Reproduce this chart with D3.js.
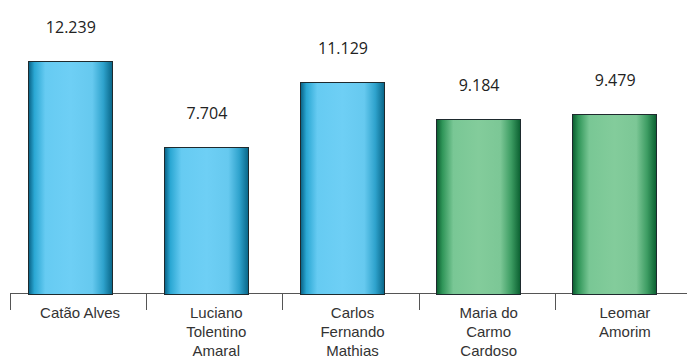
<!DOCTYPE html>
<html>
<head>
<meta charset="utf-8">
<script src="https://cdn.jsdelivr.net/npm/d3@7"></script>
<style>
  html, body { margin: 0; padding: 0; background: #fff; }
  svg { display: block; }
</style>
</head>
<body>
<svg id="chart" width="687" height="359"></svg>
<script>
// Votes per candidate
const candidates = [
  ["Catão Alves"],
  ["Luciano", "Tolentino", "Amaral"],
  ["Carlos", "Fernando", "Mathias"],
  ["Maria do", "Carmo", "Cardoso"],
  ["Leomar", "Amorim"]
];
const votes = [12.239, 7.704, 11.129, 9.184, 9.479];
const valueLabels = ["12.239", "7.704", "11.129", "9.184", "9.479"];
const groups = ["blue", "blue", "blue", "green", "green"];

const svg = d3.select("#chart");
const W = 687, H = 359;
const baseline = 294;

const ids = d3.range(votes.length);

// Category slots along the axis (labels and tick marks)
const xSlot = d3.scaleBand().domain(ids).range([10, 691]).padding(0);
// Bars sit slightly left of their slot centre
const xBar = d3.scaleBand().domain(ids).range([2, 682]).paddingInner(0.383).paddingOuter(0.19);
const y = d3.scaleLinear().domain([0, 12.239]).range([baseline, 61]);

// Cylinder-style horizontal gradients
const defs = svg.append("defs");
const palettes = {
  blue: [["0%", "#085f82"], ["7%", "#2aa7d3"], ["20%", "#66cbf2"], ["50%", "#6ecff5"], ["76%", "#66c9ef"], ["89%", "#2fa3cd"], ["100%", "#086587"]],
  green: [["0%", "#0a5c2f"], ["7%", "#2f9558"], ["20%", "#79c795"], ["50%", "#83cc9b"], ["76%", "#7cc796"], ["89%", "#3c9c62"], ["100%", "#0a5f30"]]
};
Object.entries(palettes).forEach(([k, stops]) => {
  const g = defs.append("linearGradient").attr("id", "grad-" + k)
    .attr("x1", "0%").attr("x2", "100%").attr("y1", "0%").attr("y2", "0%");
  stops.forEach(([o, c]) => g.append("stop").attr("offset", o).attr("stop-color", c));
});

// Axis line and slot separators
const axis = svg.append("g").attr("stroke", "#555").attr("stroke-width", 1);
axis.append("line")
  .attr("x1", 10).attr("x2", W).attr("y1", baseline - 0.5).attr("y2", baseline - 0.5);
axis.selectAll("line.tick").data(ids).join("line").attr("class", "tick")
  .attr("x1", d => Math.round(xSlot(d)) + 0.5).attr("x2", d => Math.round(xSlot(d)) + 0.5)
  .attr("y1", baseline - 0.5).attr("y2", baseline + 16);

// Bars
svg.selectAll("rect.bar").data(ids).join("rect").attr("class", "bar")
  .attr("x", d => Math.round(xBar(d)) + 0.5)
  .attr("width", Math.round(xBar.bandwidth()))
  .attr("y", d => Math.round(y(votes[d])) + 0.5)
  .attr("height", d => baseline - Math.round(y(votes[d])))
  .attr("fill", d => "url(#grad-" + groups[d] + ")")
  .attr("stroke", "#1e2a2e").attr("stroke-width", 1);

// Value labels above bars
svg.selectAll("text.val").data(ids).join("text").attr("class", "val")
  .attr("x", d => xBar(d) + xBar.bandwidth() / 2 + 1)
  .attr("y", d => y(votes[d]) - 28)
  .attr("text-anchor", "middle")
  .attr("font-family", "'Open Sans', sans-serif")
  .attr("font-size", 16)
  .attr("fill", "#222")
  .text(d => valueLabels[d]);

// Category labels under the axis
const cat = svg.selectAll("text.cat").data(ids).join("text").attr("class", "cat")
  .attr("x", d => xSlot(d) + xSlot.bandwidth() / 2 + 2)
  .attr("y", 318)
  .attr("text-anchor", "middle")
  .attr("font-family", "'Liberation Sans', Arial, sans-serif")
  .attr("font-size", 15)
  .attr("fill", "#333");
cat.selectAll("tspan").data(d => candidates[d].map((t, i) => ({ t, i, d }))).join("tspan")
  .attr("x", o => xSlot(o.d) + xSlot.bandwidth() / 2 + 2)
  .attr("dy", o => o.i === 0 ? 0 : 19)
  .text(o => o.t);
</script>
</body>
</html>
